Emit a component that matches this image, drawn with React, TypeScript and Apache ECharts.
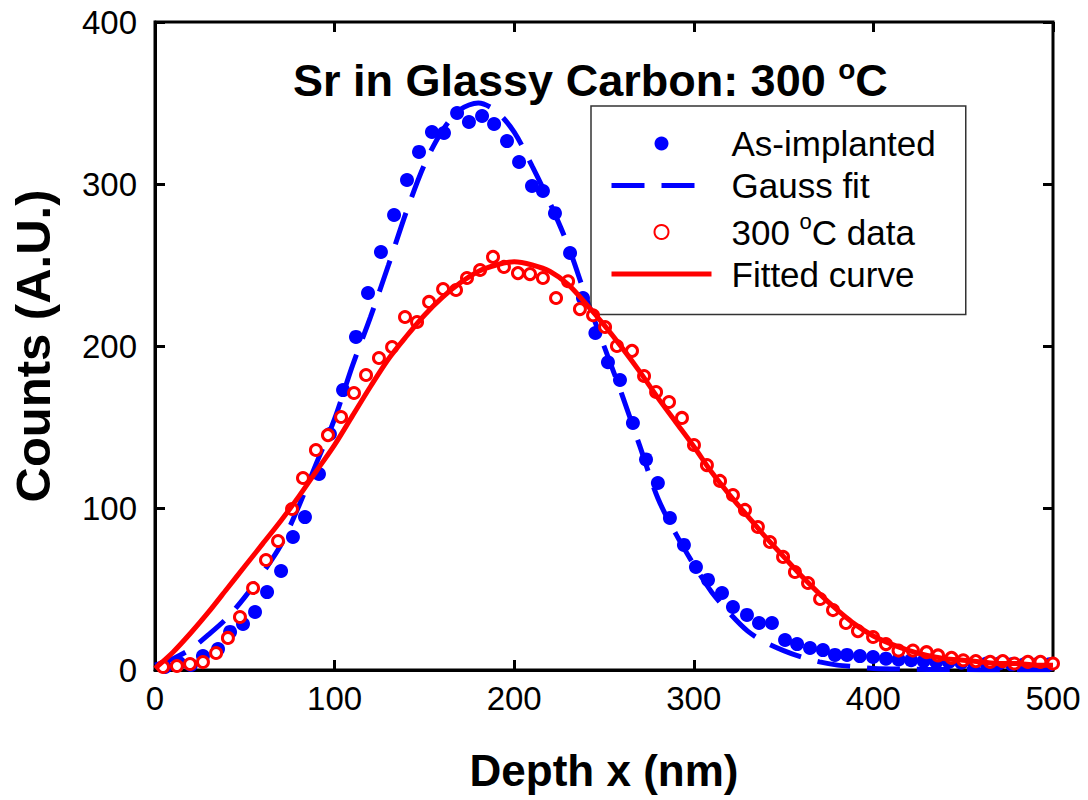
import React, { useEffect, useRef } from "react";
import * as echarts from "echarts";

const FONT = "'Liberation Sans', Arial, Helvetica, sans-serif";

const xTicks = [0, 100, 200, 300, 400, 500];
const yTicks = [0, 100, 200, 300, 400];

// As-implanted data [depth nm, counts]
const asImplanted: [number, number][] = [
  [5.6, 1.9], [13.4, 4.3], [20, 3.1], [26.7, 8.6], [35.1, 13], [41.8, 23.5], [49, 28.4], [55.7, 35.8],
  [62.4, 48.1], [70.2, 61.1], [76.8, 82.1], [83.5, 94.4], [91.3, 121], [97.4, 145.7], [104.7, 172.8],
  [111.9, 205.6], [118.6, 232.7], [125.8, 258], [133.1, 280.9], [140.3, 302.5], [147, 319.8],
  [154.2, 332.1], [160.9, 331.5], [168.2, 343.8], [174.8, 338.3], [182.1, 342], [188.8, 337],
  [196, 326.5], [202.7, 313.6], [209.9, 298.8], [216, 295.7], [222.7, 282], [231.1, 257.4],
  [238.3, 229.6], [245.2, 208], [252.2, 190], [258.9, 179], [266.1, 152.5], [273.4, 130],
  [280, 115.4], [286.7, 93.8], [294.5, 77.2], [301.2, 63.6], [307.9, 55.6], [315.7, 47.5],
  [321.8, 38.9], [329.6, 34], [336.3, 29], [343.5, 29], [350.8, 18.5], [357.5, 16], [364.7, 13.6],
  [371.9, 12.3], [378.6, 9.3], [385.3, 9.3], [392.5, 8.6], [399.8, 8], [407, 7], [414, 6.5],
  [421, 6], [428, 5.5], [435, 5], [442, 5], [449, 4.5], [456, 4], [463, 4], [470, 4], [477, 3.5],
  [484, 3.5], [491, 3.5], [498, 3.5],
];

// Gauss fit curve
const gaussX = [0, 10, 20, 30, 40, 50, 60, 70, 80, 90, 100, 110, 120, 130, 140, 150, 160, 170, 180, 190,
  200, 210, 220, 230, 240, 250, 260, 270, 280, 290, 300, 310, 320, 330, 340, 350, 360, 370, 380, 390,
  400, 420, 440, 460, 480, 500];
const gaussY = [3, 7, 13, 22, 32, 45, 60, 77, 101, 128, 155, 188, 218, 250, 283, 312, 333, 346, 350, 345,
  332, 311, 288, 262, 230, 200, 170, 138, 106, 84, 65, 48, 35, 24, 17, 12, 8, 5, 3, 2,
  1, 0.5, 0.3, 0.2, 0.1, 0.1];

// 300 °C data [depth nm, counts]
const data300: [number, number][] = [
  [4.5, 1.9], [12.2, 2.5], [19.5, 3.7], [26.7, 4.9], [34, 10.5], [40.6, 19.8], [47.3, 32.7],
  [54.6, 50.6], [61.8, 67.9], [68.5, 79.6], [76.3, 99.4], [82.4, 118.5], [89.6, 135.8], [96.3, 145],
  [103.6, 156.2], [110.8, 171], [117.5, 182.1], [124.7, 192.6], [132, 199.4], [139.2, 217.9],
  [145.9, 214.8], [152.6, 227.2], [160.4, 235.2], [167.6, 234.6], [173.7, 242], [181, 246.9],
  [188.2, 255], [194.3, 248.8], [202.1, 245], [208.8, 244.4], [216, 242], [223.3, 229.6], [230, 240],
  [236.6, 222.8], [243.9, 219], [250.6, 211.7], [257.2, 200], [265.6, 197], [272.3, 181.5],
  [279, 171.6], [286.2, 165.4], [293.4, 155.6], [300.1, 138.9], [307.3, 126.5], [314.6, 116.7],
  [321.8, 108], [328.5, 98.8], [335.7, 88.3], [342.4, 79], [349.7, 69.8], [356.3, 60.5],
  [363.6, 53.7], [370.3, 43.8], [377.5, 37], [384.7, 29], [391.4, 24], [399.8, 20.4], [407, 16],
  [414, 12], [422, 12], [429.6, 11], [436, 9], [443.5, 7.5], [450, 6], [457, 5.5], [465, 5],
  [472, 5.5], [478.5, 4], [486, 5], [493, 5], [500, 4],
];

// Fitted curve
const fitX = [0, 10, 20, 30, 40, 50, 60, 70, 80, 90, 100, 110, 120, 130, 140, 150, 160, 170, 180, 190,
  200, 210, 220, 230, 240, 250, 260, 270, 280, 290, 300, 310, 320, 330, 340, 350, 360, 370, 380, 390,
  400, 410, 420, 430, 440, 450, 460, 470, 480, 490, 500];
const fitY = [1, 11, 23, 36, 50, 64, 78, 92, 107, 123, 139, 157, 175, 192, 206, 219, 230, 239, 246, 250,
  252, 250, 246, 238, 226, 213, 199, 184, 168, 153, 138, 122, 108, 95, 82, 70, 58, 47, 37, 28,
  21, 16, 12, 9, 7, 6, 5, 4, 4, 3, 3];

const seriesNames = ["As-implanted", "Gauss fit", "300 °C data", "Fitted curve"];

export default function App() {
  const ref = useRef<HTMLDivElement>(null);
  useEffect(() => {
    document.body.style.margin = "0";
    const chart = echarts.init(ref.current!, undefined, { renderer: "svg" });
    const gaussData = gaussX.map((x, i) => [x, gaussY[i]]);
    const fitData = fitX.map((x, i) => [x, fitY[i]]);
    const axisLine = { show: true, onZero: false, lineStyle: { color: "#000", width: 3 } };
    const noLine = { show: false, onZero: false };
    const axisTick = { show: true, inside: true, length: 10, lineStyle: { color: "#000", width: 3 } };
    chart.setOption({
      animation: false,
      backgroundColor: "#fff",
      title: {
        text: "{a|Sr in Glassy Carbon: 300 }{s|o}{a|C}",
        left: 288,
        top: 50,
        textStyle: {
          rich: {
            a: { fontFamily: FONT, fontSize: 45, fontWeight: "bold", color: "#000", lineHeight: 50 },
            s: { fontFamily: FONT, fontSize: 28, fontWeight: "bold", color: "#000", verticalAlign: "top", lineHeight: 50, padding: [0, 0, 18, 0] },
          },
        },
      },
      legend: {
        orient: "vertical",
        left: 591,
        top: 106,
        padding: [20, 30, 23, 18],
        itemWidth: 100,
        itemHeight: 14,
        itemGap: 7,
        borderColor: "#333",
        borderWidth: 1.5,
        data: [
          { name: seriesNames[0] },
          { name: seriesNames[1], itemStyle: { opacity: 0 }, lineStyle: { width: 5 } },
          { name: seriesNames[2] },
          { name: seriesNames[3], itemStyle: { opacity: 0 }, lineStyle: { width: 5 } },
        ],
        formatter: (name: string) =>
          name === "300 °C data" ? "{f|300 }{s|o}{n|C data}" : "{f|" + name + "}",
        textStyle: {
          rich: {
            f: { fontFamily: FONT, fontSize: 35, color: "#000", lineHeight: 44, padding: [0, 0, 0, 15] },
            n: { fontFamily: FONT, fontSize: 35, color: "#000", lineHeight: 44 },
            s: { fontFamily: FONT, fontSize: 22, color: "#000", verticalAlign: "top", lineHeight: 44, padding: [0, 0, 14, 0] },
          },
        },
      },
      grid: {
        left: 155, right: 35, top: 22, bottom: 130, containLabel: false,
        show: true, borderColor: "#000", borderWidth: 3, backgroundColor: "transparent",
      },
      xAxis: [
        {
          type: "value",
          min: 0,
          max: 500,
          interval: 100,
          name: "Depth x (nm)",
          nameLocation: "middle",
          nameGap: 78,
          nameTextStyle: { fontFamily: FONT, fontSize: 44, fontWeight: "bold", color: "#000" },
          axisLine,
          axisTick,
          splitLine: { show: false },
          axisLabel: { fontFamily: FONT, fontSize: 33, color: "#000", margin: 12 },
        },
        {
          type: "value",
          position: "top",
          min: 0,
          max: 500,
          interval: 100,
          axisLine: noLine,
          axisTick,
          splitLine: { show: false },
          axisLabel: { show: false },
        },
      ],
      yAxis: [
        {
          type: "value",
          min: 0,
          max: 400,
          interval: 100,
          name: "Counts (A.U.)",
          nameLocation: "middle",
          nameGap: 98,
          nameTextStyle: { fontFamily: FONT, fontSize: 49, fontWeight: "bold", color: "#000" },
          axisLine,
          axisTick,
          splitLine: { show: false },
          axisLabel: { fontFamily: FONT, fontSize: 33, color: "#000", margin: 18 },
        },
        {
          type: "value",
          position: "right",
          min: 0,
          max: 400,
          interval: 100,
          axisLine: noLine,
          axisTick,
          splitLine: { show: false },
          axisLabel: { show: false },
        },
      ],
      series: [
        {
          name: seriesNames[0],
          type: "scatter",
          data: asImplanted,
          symbol: "circle",
          symbolSize: 14,
          itemStyle: { color: "#0000ff", opacity: 1 },
          z: 2,
        },
        {
          name: seriesNames[1],
          type: "line",
          data: gaussData,
          symbol: "none",
          smooth: 0.3,
          lineStyle: { color: "#0000ff", width: 5, type: [33, 17] },
          itemStyle: { color: "#0000ff" },
          z: 3,
        },
        {
          name: seriesNames[2],
          type: "scatter",
          data: data300,
          symbol: "circle",
          symbolSize: 11,
          itemStyle: { color: "#fff", borderColor: "#ff0000", borderWidth: 3, opacity: 1 },
          z: 4,
        },
        {
          name: seriesNames[3],
          type: "line",
          data: fitData,
          symbol: "none",
          smooth: 0.3,
          lineStyle: { color: "#ff0000", width: 5 },
          itemStyle: { color: "#ff0000" },
          z: 5,
        },
      ],
    });
    return () => chart.dispose();
  }, []);
  return <div ref={ref} style={{ width: 1088, height: 800 }} />;
}
